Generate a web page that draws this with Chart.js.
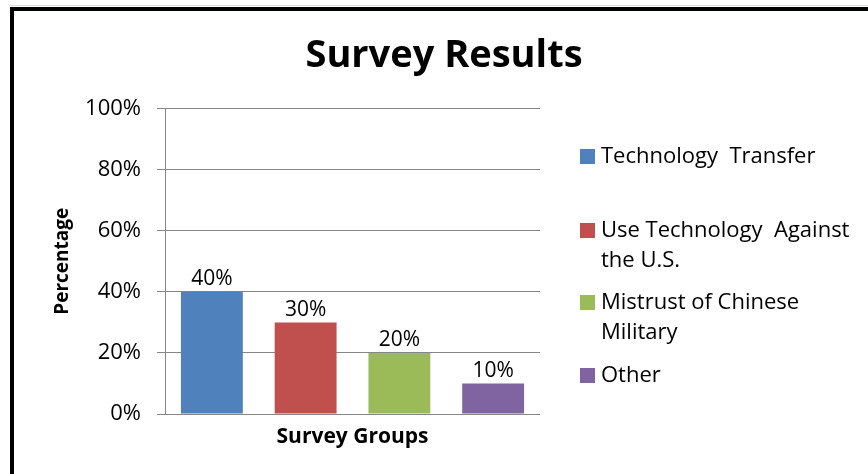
<!DOCTYPE html>
<html>
<head>
<meta charset="utf-8">
<title>Survey Results</title>
<script src="https://cdn.jsdelivr.net/npm/chart.js@4.4.0/dist/chart.umd.min.js"></script>
<style>
  html, body { margin: 0; padding: 0; background: #fff; }
  #wrap { position: relative; width: 868px; height: 474px; overflow: hidden; }
  #sheetLine { position: absolute; left: 10px; top: 5px; right: 0; height: 1px; background: #d6dbe4; }
  #frame { position: absolute; left: 10px; top: 7px; right: -10px; bottom: -10px;
           border-left: 4px solid #000; border-top: 4px solid #000; pointer-events: none; }
  canvas { position: absolute; left: 0; top: 0; }
</style>
</head>
<body>
<div id="wrap">
  <div id="sheetLine"></div>
  <canvas id="surveyChart" width="868" height="474"></canvas>
  <div id="frame"></div>
</div>
<script>
// Chart data
const groups = ['Technology Transfer', 'Use Technology Against the U.S.', 'Mistrust of Chinese Military', 'Other'];
const legendLines = [['Technology  Transfer'], ['Use Technology  Against', 'the U.S.'], ['Mistrust of Chinese', 'Military'], ['Other']];
const percentages = [40, 30, 20, 10];
const yTicks = [0, 20, 40, 60, 80, 100];
const barColors = ['#4F81BD', '#C0504D', '#9BBB59', '#8064A2'];

const FONT = '"Open Sans", Lato, sans-serif';
const gridColor = '#868686';

// Draws "40%" etc above each bar
const valueLabels = {
    id: 'valueLabels',
    afterDatasetsDraw(chart) {
        const ctx = chart.ctx;
        ctx.save();
        ctx.font = '21px ' + FONT;
        ctx.fillStyle = '#000';
        ctx.textAlign = 'center';
        ctx.textBaseline = 'bottom';
        chart.data.datasets.forEach((ds, i) => {
            chart.getDatasetMeta(i).data.forEach((bar, j) => {
                ctx.fillText(ds.data[j] + '%', bar.x, bar.y - 2);
            });
        });
        ctx.restore();
    }
};

// Excel style legend on the right, with wrapped entries
const sideLegend = {
    id: 'sideLegend',
    afterDraw(chart) {
        const ctx = chart.ctx;
        const firstLineY = [157, 231, 303, 376];
        const lineHeight = 30;
        ctx.save();
        ctx.font = '22px ' + FONT;
        ctx.textBaseline = 'middle';
        ctx.textAlign = 'left';
        chart.data.datasets.forEach((ds, i) => {
            const y = firstLineY[i];
            ctx.fillStyle = ds.backgroundColor;
            ctx.fillRect(580, y - 8, 15, 15);
            ctx.fillStyle = '#000';
            legendLines[i].forEach((line, k) => {
                ctx.fillText(line, 601, y + k * lineHeight);
            });
        });
        ctx.restore();
    }
};

const ctx = document.getElementById('surveyChart').getContext('2d');
const surveyChart = new Chart(ctx, {
    type: 'bar',
    data: {
        labels: ['Survey Groups'],
        datasets: groups.map((g, i) => ({
            label: g,
            data: [percentages[i]],
            backgroundColor: barColors[i],
            borderWidth: 0
        }))
    },
    options: {
        responsive: false,
        animation: false,
        datasets: {
            bar: { categoryPercentage: 1.0, barPercentage: 0.66 }
        },
        layout: {
            padding: { left: 20, right: 0, top: 12, bottom: 20 }
        },
        plugins: {
            legend: { display: false },
            tooltip: { enabled: false },
            title: {
                display: true,
                text: 'Survey Results',
                color: '#000',
                font: { family: FONT, size: 38, weight: 'bold' },
                padding: { top: 21, bottom: 30 }
            }
        },
        scales: {
            x: {
                grid: { display: false },
                border: { display: false },
                ticks: { display: false },
                title: {
                    display: true,
                    text: 'Survey Groups',
                    color: '#000',
                    font: { family: FONT, size: 21, weight: 'bold' },
                    padding: { top: 4, bottom: 4 }
                },
                afterFit(scale) { scale.height = 40; }
            },
            y: {
                min: 0,
                max: 100,
                afterBuildTicks(scale) {
                    scale.ticks = yTicks.map(v => ({ value: v }));
                },
                ticks: {
                    color: '#000',
                    font: { family: FONT, size: 22 },
                    padding: 16,
                    callback: v => v + '%'
                },
                grid: { color: gridColor, lineWidth: 1, tickLength: 8 },
                border: { color: gridColor, width: 1 },
                title: {
                    display: true,
                    text: 'Percentage',
                    color: '#000',
                    font: { family: FONT, size: 19, weight: 'bold' },
                    padding: { top: 31, bottom: 4 }
                },
                afterFit(scale) { scale.width = 145; }
            },
            // empty box on the right that leaves room for the side legend
            legendSpace: {
                type: 'linear',
                position: 'right',
                display: true,
                grid: { display: false },
                border: { display: false },
                ticks: { display: false },
                afterFit(scale) { scale.width = 328; }
            }
        }
    },
    plugins: [valueLabels, sideLegend]
});
</script>
</body>
</html>
